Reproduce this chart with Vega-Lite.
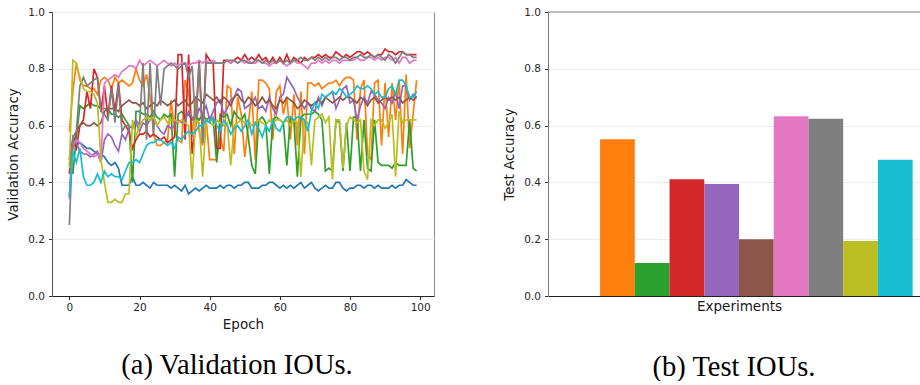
{
"$schema":"https://vega.github.io/schema/vega-lite/v6.json",
"padding":{"left":6,"top":6,"right":0,"bottom":0},
"background":"white",
"spacing":114,
"bounds":"flush",
"config":{
"font":"DejaVu Sans",
"axis":{"labelFont":"DejaVu Sans","labelFontSize":10.5,"labelColor":"#262626","titleFont":"DejaVu Sans","titleFontSize":13.5,"titleFontWeight":"normal","titleColor":"#1a1a1a","tickColor":"#333","tickSize":3.5,"gridColor":"#ebebeb","gridWidth":1},
"title":{"font":"Liberation Serif","fontSize":28.5,"fontWeight":"normal","color":"#000","orient":"bottom","anchor":"middle"}
},
"datasets":{
"test":[{"exp":"E1","acc":0},{"exp":"E2","acc":0.552},{"exp":"E3","acc":0.116},{"exp":"E4","acc":0.411},{"exp":"E5","acc":0.394},{"exp":"E6","acc":0.2},{"exp":"E7","acc":0.633},{"exp":"E8","acc":0.624},{"exp":"E9","acc":0.194},{"exp":"E10","acc":0.48}],
"val":[
{"s":1,"e":0,"v":0.48},{"s":1,"e":1,"v":0.55},{"s":1,"e":2,"v":0.53},{"s":1,"e":3,"v":0.54},{"s":1,"e":4,"v":0.53},{"s":1,"e":5,"v":0.52},{"s":1,"e":6,"v":0.52},{"s":1,"e":7,"v":0.51},{"s":1,"e":8,"v":0.50},{"s":1,"e":9,"v":0.50},
{"s":1,"e":10,"v":0.49},{"s":1,"e":11,"v":0.47},{"s":1,"e":12,"v":0.46},{"s":1,"e":13,"v":0.47},{"s":1,"e":14,"v":0.45},{"s":1,"e":15,"v":0.39},{"s":1,"e":16,"v":0.39},{"s":1,"e":17,"v":0.39},{"s":1,"e":18,"v":0.42},{"s":1,"e":19,"v":0.39},
{"s":1,"e":20,"v":0.39},{"s":1,"e":21,"v":0.40},{"s":1,"e":22,"v":0.39},{"s":1,"e":23,"v":0.38},{"s":1,"e":24,"v":0.40},{"s":1,"e":25,"v":0.39},{"s":1,"e":26,"v":0.39},{"s":1,"e":27,"v":0.39},{"s":1,"e":28,"v":0.39},{"s":1,"e":29,"v":0.38},
{"s":1,"e":30,"v":0.39},{"s":1,"e":31,"v":0.38},{"s":1,"e":32,"v":0.37},{"s":1,"e":33,"v":0.39},{"s":1,"e":34,"v":0.36},{"s":1,"e":35,"v":0.37},{"s":1,"e":36,"v":0.38},{"s":1,"e":37,"v":0.37},{"s":1,"e":38,"v":0.38},{"s":1,"e":39,"v":0.39},
{"s":1,"e":40,"v":0.38},{"s":1,"e":41,"v":0.38},{"s":1,"e":42,"v":0.38},{"s":1,"e":43,"v":0.39},{"s":1,"e":44,"v":0.38},{"s":1,"e":45,"v":0.39},{"s":1,"e":46,"v":0.39},{"s":1,"e":47,"v":0.38},{"s":1,"e":48,"v":0.39},{"s":1,"e":49,"v":0.39},
{"s":1,"e":50,"v":0.40},{"s":1,"e":51,"v":0.40},{"s":1,"e":52,"v":0.38},{"s":1,"e":53,"v":0.38},{"s":1,"e":54,"v":0.38},{"s":1,"e":55,"v":0.39},{"s":1,"e":56,"v":0.39},{"s":1,"e":57,"v":0.40},{"s":1,"e":58,"v":0.40},{"s":1,"e":59,"v":0.39},
{"s":1,"e":60,"v":0.38},{"s":1,"e":61,"v":0.39},{"s":1,"e":62,"v":0.38},{"s":1,"e":63,"v":0.39},{"s":1,"e":64,"v":0.38},{"s":1,"e":65,"v":0.39},{"s":1,"e":66,"v":0.40},{"s":1,"e":67,"v":0.38},{"s":1,"e":68,"v":0.39},{"s":1,"e":69,"v":0.40},
{"s":1,"e":70,"v":0.38},{"s":1,"e":71,"v":0.37},{"s":1,"e":72,"v":0.38},{"s":1,"e":73,"v":0.39},{"s":1,"e":74,"v":0.38},{"s":1,"e":75,"v":0.38},{"s":1,"e":76,"v":0.40},{"s":1,"e":77,"v":0.40},{"s":1,"e":78,"v":0.38},{"s":1,"e":79,"v":0.37},
{"s":1,"e":80,"v":0.38},{"s":1,"e":81,"v":0.38},{"s":1,"e":82,"v":0.39},{"s":1,"e":83,"v":0.39},{"s":1,"e":84,"v":0.38},{"s":1,"e":85,"v":0.39},{"s":1,"e":86,"v":0.39},{"s":1,"e":87,"v":0.38},{"s":1,"e":88,"v":0.39},{"s":1,"e":89,"v":0.38},
{"s":1,"e":90,"v":0.38},{"s":1,"e":91,"v":0.38},{"s":1,"e":92,"v":0.39},{"s":1,"e":93,"v":0.38},{"s":1,"e":94,"v":0.39},{"s":1,"e":95,"v":0.39},{"s":1,"e":96,"v":0.41},{"s":1,"e":97,"v":0.40},{"s":1,"e":98,"v":0.39},{"s":1,"e":99,"v":0.39},
{"s":2,"e":0,"v":0.58},{"s":2,"e":1,"v":0.72},{"s":2,"e":2,"v":0.82},{"s":2,"e":3,"v":0.76},{"s":2,"e":4,"v":0.74},{"s":2,"e":5,"v":0.74},{"s":2,"e":6,"v":0.73},{"s":2,"e":7,"v":0.73},{"s":2,"e":8,"v":0.71},{"s":2,"e":9,"v":0.76},
{"s":2,"e":10,"v":0.77},{"s":2,"e":11,"v":0.76},{"s":2,"e":12,"v":0.73},{"s":2,"e":13,"v":0.77},{"s":2,"e":14,"v":0.75},{"s":2,"e":15,"v":0.76},{"s":2,"e":16,"v":0.75},{"s":2,"e":17,"v":0.74},{"s":2,"e":18,"v":0.75},{"s":2,"e":19,"v":0.80},
{"s":2,"e":20,"v":0.76},{"s":2,"e":21,"v":0.74},{"s":2,"e":22,"v":0.78},{"s":2,"e":23,"v":0.70},{"s":2,"e":24,"v":0.57},{"s":2,"e":25,"v":0.53},{"s":2,"e":26,"v":0.53},{"s":2,"e":27,"v":0.54},{"s":2,"e":28,"v":0.55},{"s":2,"e":29,"v":0.69},
{"s":2,"e":30,"v":0.58},{"s":2,"e":31,"v":0.55},{"s":2,"e":32,"v":0.54},{"s":2,"e":33,"v":0.76},{"s":2,"e":34,"v":0.72},{"s":2,"e":35,"v":0.56},{"s":2,"e":36,"v":0.70},{"s":2,"e":37,"v":0.58},{"s":2,"e":38,"v":0.53},{"s":2,"e":39,"v":0.62},
{"s":2,"e":40,"v":0.48},{"s":2,"e":41,"v":0.48},{"s":2,"e":42,"v":0.48},{"s":2,"e":43,"v":0.56},{"s":2,"e":44,"v":0.51},{"s":2,"e":45,"v":0.74},{"s":2,"e":46,"v":0.73},{"s":2,"e":47,"v":0.50},{"s":2,"e":48,"v":0.70},{"s":2,"e":49,"v":0.64},
{"s":2,"e":50,"v":0.49},{"s":2,"e":51,"v":0.60},{"s":2,"e":52,"v":0.72},{"s":2,"e":53,"v":0.48},{"s":2,"e":54,"v":0.76},{"s":2,"e":55,"v":0.76},{"s":2,"e":56,"v":0.75},{"s":2,"e":57,"v":0.73},{"s":2,"e":58,"v":0.55},{"s":2,"e":59,"v":0.72},
{"s":2,"e":60,"v":0.74},{"s":2,"e":61,"v":0.64},{"s":2,"e":62,"v":0.70},{"s":2,"e":63,"v":0.55},{"s":2,"e":64,"v":0.71},{"s":2,"e":65,"v":0.53},{"s":2,"e":66,"v":0.72},{"s":2,"e":67,"v":0.50},{"s":2,"e":68,"v":0.75},{"s":2,"e":69,"v":0.75},
{"s":2,"e":70,"v":0.74},{"s":2,"e":71,"v":0.75},{"s":2,"e":72,"v":0.73},{"s":2,"e":73,"v":0.74},{"s":2,"e":74,"v":0.75},{"s":2,"e":75,"v":0.75},{"s":2,"e":76,"v":0.76},{"s":2,"e":77,"v":0.74},{"s":2,"e":78,"v":0.76},{"s":2,"e":79,"v":0.77},
{"s":2,"e":80,"v":0.77},{"s":2,"e":81,"v":0.76},{"s":2,"e":82,"v":0.55},{"s":2,"e":83,"v":0.73},{"s":2,"e":84,"v":0.76},{"s":2,"e":85,"v":0.50},{"s":2,"e":86,"v":0.48},{"s":2,"e":87,"v":0.75},{"s":2,"e":88,"v":0.76},{"s":2,"e":89,"v":0.53},
{"s":2,"e":90,"v":0.75},{"s":2,"e":91,"v":0.56},{"s":2,"e":92,"v":0.75},{"s":2,"e":93,"v":0.62},{"s":2,"e":94,"v":0.76},{"s":2,"e":95,"v":0.50},{"s":2,"e":96,"v":0.78},{"s":2,"e":97,"v":0.52},{"s":2,"e":98,"v":0.64},{"s":2,"e":99,"v":0.76},
{"s":3,"e":0,"v":0.49},{"s":3,"e":1,"v":0.43},{"s":3,"e":2,"v":0.56},{"s":3,"e":3,"v":0.67},{"s":3,"e":4,"v":0.66},{"s":3,"e":5,"v":0.67},{"s":3,"e":6,"v":0.68},{"s":3,"e":7,"v":0.67},{"s":3,"e":8,"v":0.67},{"s":3,"e":9,"v":0.66},
{"s":3,"e":10,"v":0.66},{"s":3,"e":11,"v":0.66},{"s":3,"e":12,"v":0.64},{"s":3,"e":13,"v":0.64},{"s":3,"e":14,"v":0.63},{"s":3,"e":15,"v":0.64},{"s":3,"e":16,"v":0.62},{"s":3,"e":17,"v":0.60},{"s":3,"e":18,"v":0.40},{"s":3,"e":19,"v":0.65},
{"s":3,"e":20,"v":0.65},{"s":3,"e":21,"v":0.64},{"s":3,"e":22,"v":0.64},{"s":3,"e":23,"v":0.63},{"s":3,"e":24,"v":0.65},{"s":3,"e":25,"v":0.63},{"s":3,"e":26,"v":0.62},{"s":3,"e":27,"v":0.64},{"s":3,"e":28,"v":0.63},{"s":3,"e":29,"v":0.64},
{"s":3,"e":30,"v":0.42},{"s":3,"e":31,"v":0.64},{"s":3,"e":32,"v":0.65},{"s":3,"e":33,"v":0.63},{"s":3,"e":34,"v":0.64},{"s":3,"e":35,"v":0.62},{"s":3,"e":36,"v":0.63},{"s":3,"e":37,"v":0.62},{"s":3,"e":38,"v":0.64},{"s":3,"e":39,"v":0.62},
{"s":3,"e":40,"v":0.63},{"s":3,"e":41,"v":0.62},{"s":3,"e":42,"v":0.47},{"s":3,"e":43,"v":0.64},{"s":3,"e":44,"v":0.63},{"s":3,"e":45,"v":0.64},{"s":3,"e":46,"v":0.60},{"s":3,"e":47,"v":0.65},{"s":3,"e":48,"v":0.63},{"s":3,"e":49,"v":0.62},
{"s":3,"e":50,"v":0.64},{"s":3,"e":51,"v":0.56},{"s":3,"e":52,"v":0.46},{"s":3,"e":53,"v":0.43},{"s":3,"e":54,"v":0.62},{"s":3,"e":55,"v":0.63},{"s":3,"e":56,"v":0.61},{"s":3,"e":57,"v":0.43},{"s":3,"e":58,"v":0.62},{"s":3,"e":59,"v":0.63},
{"s":3,"e":60,"v":0.62},{"s":3,"e":61,"v":0.61},{"s":3,"e":62,"v":0.46},{"s":3,"e":63,"v":0.63},{"s":3,"e":64,"v":0.62},{"s":3,"e":65,"v":0.42},{"s":3,"e":66,"v":0.63},{"s":3,"e":67,"v":0.64},{"s":3,"e":68,"v":0.64},{"s":3,"e":69,"v":0.64},
{"s":3,"e":70,"v":0.65},{"s":3,"e":71,"v":0.64},{"s":3,"e":72,"v":0.62},{"s":3,"e":73,"v":0.44},{"s":3,"e":74,"v":0.45},{"s":3,"e":75,"v":0.44},{"s":3,"e":76,"v":0.62},{"s":3,"e":77,"v":0.61},{"s":3,"e":78,"v":0.44},{"s":3,"e":79,"v":0.61},
{"s":3,"e":80,"v":0.44},{"s":3,"e":81,"v":0.63},{"s":3,"e":82,"v":0.63},{"s":3,"e":83,"v":0.44},{"s":3,"e":84,"v":0.62},{"s":3,"e":85,"v":0.45},{"s":3,"e":86,"v":0.44},{"s":3,"e":87,"v":0.62},{"s":3,"e":88,"v":0.47},{"s":3,"e":89,"v":0.46},
{"s":3,"e":90,"v":0.46},{"s":3,"e":91,"v":0.46},{"s":3,"e":92,"v":0.45},{"s":3,"e":93,"v":0.47},{"s":3,"e":94,"v":0.46},{"s":3,"e":95,"v":0.46},{"s":3,"e":96,"v":0.46},{"s":3,"e":97,"v":0.62},{"s":3,"e":98,"v":0.45},{"s":3,"e":99,"v":0.44},
{"s":4,"e":0,"v":0.43},{"s":4,"e":1,"v":0.55},{"s":4,"e":2,"v":0.52},{"s":4,"e":3,"v":0.60},{"s":4,"e":4,"v":0.62},{"s":4,"e":5,"v":0.72},{"s":4,"e":6,"v":0.66},{"s":4,"e":7,"v":0.80},{"s":4,"e":8,"v":0.77},{"s":4,"e":9,"v":0.65},
{"s":4,"e":10,"v":0.74},{"s":4,"e":11,"v":0.63},{"s":4,"e":12,"v":0.74},{"s":4,"e":13,"v":0.65},{"s":4,"e":14,"v":0.75},{"s":4,"e":15,"v":0.62},{"s":4,"e":16,"v":0.60},{"s":4,"e":17,"v":0.58},{"s":4,"e":18,"v":0.52},{"s":4,"e":19,"v":0.55},
{"s":4,"e":20,"v":0.57},{"s":4,"e":21,"v":0.57},{"s":4,"e":22,"v":0.58},{"s":4,"e":23,"v":0.56},{"s":4,"e":24,"v":0.57},{"s":4,"e":25,"v":0.56},{"s":4,"e":26,"v":0.55},{"s":4,"e":27,"v":0.56},{"s":4,"e":28,"v":0.54},{"s":4,"e":29,"v":0.55},
{"s":4,"e":30,"v":0.56},{"s":4,"e":31,"v":0.85},{"s":4,"e":32,"v":0.85},{"s":4,"e":33,"v":0.55},{"s":4,"e":34,"v":0.85},{"s":4,"e":35,"v":0.50},{"s":4,"e":36,"v":0.60},{"s":4,"e":37,"v":0.83},{"s":4,"e":38,"v":0.56},{"s":4,"e":39,"v":0.85},
{"s":4,"e":40,"v":0.83},{"s":4,"e":41,"v":0.82},{"s":4,"e":42,"v":0.52},{"s":4,"e":43,"v":0.52},{"s":4,"e":44,"v":0.83},{"s":4,"e":45,"v":0.83},{"s":4,"e":46,"v":0.82},{"s":4,"e":47,"v":0.83},{"s":4,"e":48,"v":0.84},{"s":4,"e":49,"v":0.83},
{"s":4,"e":50,"v":0.85},{"s":4,"e":51,"v":0.83},{"s":4,"e":52,"v":0.84},{"s":4,"e":53,"v":0.83},{"s":4,"e":54,"v":0.85},{"s":4,"e":55,"v":0.83},{"s":4,"e":56,"v":0.84},{"s":4,"e":57,"v":0.82},{"s":4,"e":58,"v":0.84},{"s":4,"e":59,"v":0.82},
{"s":4,"e":60,"v":0.84},{"s":4,"e":61,"v":0.82},{"s":4,"e":62,"v":0.85},{"s":4,"e":63,"v":0.82},{"s":4,"e":64,"v":0.84},{"s":4,"e":65,"v":0.83},{"s":4,"e":66,"v":0.82},{"s":4,"e":67,"v":0.84},{"s":4,"e":68,"v":0.83},{"s":4,"e":69,"v":0.84},
{"s":4,"e":70,"v":0.84},{"s":4,"e":71,"v":0.85},{"s":4,"e":72,"v":0.84},{"s":4,"e":73,"v":0.85},{"s":4,"e":74,"v":0.84},{"s":4,"e":75,"v":0.84},{"s":4,"e":76,"v":0.86},{"s":4,"e":77,"v":0.85},{"s":4,"e":78,"v":0.84},{"s":4,"e":79,"v":0.85},
{"s":4,"e":80,"v":0.84},{"s":4,"e":81,"v":0.85},{"s":4,"e":82,"v":0.86},{"s":4,"e":83,"v":0.86},{"s":4,"e":84,"v":0.85},{"s":4,"e":85,"v":0.86},{"s":4,"e":86,"v":0.85},{"s":4,"e":87,"v":0.84},{"s":4,"e":88,"v":0.85},{"s":4,"e":89,"v":0.85},
{"s":4,"e":90,"v":0.87},{"s":4,"e":91,"v":0.86},{"s":4,"e":92,"v":0.86},{"s":4,"e":93,"v":0.85},{"s":4,"e":94,"v":0.86},{"s":4,"e":95,"v":0.86},{"s":4,"e":96,"v":0.85},{"s":4,"e":97,"v":0.85},{"s":4,"e":98,"v":0.85},{"s":4,"e":99,"v":0.85},
{"s":5,"e":0,"v":0.35},{"s":5,"e":1,"v":0.56},{"s":5,"e":2,"v":0.54},{"s":5,"e":3,"v":0.51},{"s":5,"e":4,"v":0.50},{"s":5,"e":5,"v":0.50},{"s":5,"e":6,"v":0.49},{"s":5,"e":7,"v":0.50},{"s":5,"e":8,"v":0.51},{"s":5,"e":9,"v":0.47},
{"s":5,"e":10,"v":0.55},{"s":5,"e":11,"v":0.57},{"s":5,"e":12,"v":0.56},{"s":5,"e":13,"v":0.53},{"s":5,"e":14,"v":0.51},{"s":5,"e":15,"v":0.57},{"s":5,"e":16,"v":0.55},{"s":5,"e":17,"v":0.59},{"s":5,"e":18,"v":0.60},{"s":5,"e":19,"v":0.61},
{"s":5,"e":20,"v":0.58},{"s":5,"e":21,"v":0.61},{"s":5,"e":22,"v":0.60},{"s":5,"e":23,"v":0.62},{"s":5,"e":24,"v":0.63},{"s":5,"e":25,"v":0.60},{"s":5,"e":26,"v":0.58},{"s":5,"e":27,"v":0.57},{"s":5,"e":28,"v":0.60},{"s":5,"e":29,"v":0.59},
{"s":5,"e":30,"v":0.60},{"s":5,"e":31,"v":0.62},{"s":5,"e":32,"v":0.61},{"s":5,"e":33,"v":0.62},{"s":5,"e":34,"v":0.65},{"s":5,"e":35,"v":0.63},{"s":5,"e":36,"v":0.62},{"s":5,"e":37,"v":0.66},{"s":5,"e":38,"v":0.64},{"s":5,"e":39,"v":0.67},
{"s":5,"e":40,"v":0.62},{"s":5,"e":41,"v":0.65},{"s":5,"e":42,"v":0.68},{"s":5,"e":43,"v":0.69},{"s":5,"e":44,"v":0.64},{"s":5,"e":45,"v":0.66},{"s":5,"e":46,"v":0.69},{"s":5,"e":47,"v":0.70},{"s":5,"e":48,"v":0.73},{"s":5,"e":49,"v":0.72},
{"s":5,"e":50,"v":0.66},{"s":5,"e":51,"v":0.67},{"s":5,"e":52,"v":0.68},{"s":5,"e":53,"v":0.70},{"s":5,"e":54,"v":0.66},{"s":5,"e":55,"v":0.67},{"s":5,"e":56,"v":0.65},{"s":5,"e":57,"v":0.70},{"s":5,"e":58,"v":0.66},{"s":5,"e":59,"v":0.64},
{"s":5,"e":60,"v":0.70},{"s":5,"e":61,"v":0.71},{"s":5,"e":62,"v":0.77},{"s":5,"e":63,"v":0.75},{"s":5,"e":64,"v":0.73},{"s":5,"e":65,"v":0.70},{"s":5,"e":66,"v":0.68},{"s":5,"e":67,"v":0.66},{"s":5,"e":68,"v":0.68},{"s":5,"e":69,"v":0.66},
{"s":5,"e":70,"v":0.65},{"s":5,"e":71,"v":0.70},{"s":5,"e":72,"v":0.67},{"s":5,"e":73,"v":0.70},{"s":5,"e":74,"v":0.71},{"s":5,"e":75,"v":0.72},{"s":5,"e":76,"v":0.66},{"s":5,"e":77,"v":0.69},{"s":5,"e":78,"v":0.73},{"s":5,"e":79,"v":0.74},
{"s":5,"e":80,"v":0.68},{"s":5,"e":81,"v":0.69},{"s":5,"e":82,"v":0.62},{"s":5,"e":83,"v":0.67},{"s":5,"e":84,"v":0.70},{"s":5,"e":85,"v":0.68},{"s":5,"e":86,"v":0.72},{"s":5,"e":87,"v":0.71},{"s":5,"e":88,"v":0.69},{"s":5,"e":89,"v":0.68},
{"s":5,"e":90,"v":0.66},{"s":5,"e":91,"v":0.70},{"s":5,"e":92,"v":0.68},{"s":5,"e":93,"v":0.72},{"s":5,"e":94,"v":0.66},{"s":5,"e":95,"v":0.74},{"s":5,"e":96,"v":0.74},{"s":5,"e":97,"v":0.69},{"s":5,"e":98,"v":0.71},{"s":5,"e":99,"v":0.70},
{"s":6,"e":0,"v":0.46},{"s":6,"e":1,"v":0.52},{"s":6,"e":2,"v":0.58},{"s":6,"e":3,"v":0.60},{"s":6,"e":4,"v":0.61},{"s":6,"e":5,"v":0.60},{"s":6,"e":6,"v":0.60},{"s":6,"e":7,"v":0.61},{"s":6,"e":8,"v":0.60},{"s":6,"e":9,"v":0.61},
{"s":6,"e":10,"v":0.65},{"s":6,"e":11,"v":0.66},{"s":6,"e":12,"v":0.66},{"s":6,"e":13,"v":0.66},{"s":6,"e":14,"v":0.65},{"s":6,"e":15,"v":0.67},{"s":6,"e":16,"v":0.68},{"s":6,"e":17,"v":0.69},{"s":6,"e":18,"v":0.68},{"s":6,"e":19,"v":0.68},
{"s":6,"e":20,"v":0.67},{"s":6,"e":21,"v":0.68},{"s":6,"e":22,"v":0.66},{"s":6,"e":23,"v":0.67},{"s":6,"e":24,"v":0.68},{"s":6,"e":25,"v":0.67},{"s":6,"e":26,"v":0.69},{"s":6,"e":27,"v":0.68},{"s":6,"e":28,"v":0.67},{"s":6,"e":29,"v":0.68},
{"s":6,"e":30,"v":0.69},{"s":6,"e":31,"v":0.67},{"s":6,"e":32,"v":0.68},{"s":6,"e":33,"v":0.69},{"s":6,"e":34,"v":0.67},{"s":6,"e":35,"v":0.68},{"s":6,"e":36,"v":0.70},{"s":6,"e":37,"v":0.69},{"s":6,"e":38,"v":0.68},{"s":6,"e":39,"v":0.71},
{"s":6,"e":40,"v":0.70},{"s":6,"e":41,"v":0.69},{"s":6,"e":42,"v":0.70},{"s":6,"e":43,"v":0.68},{"s":6,"e":44,"v":0.70},{"s":6,"e":45,"v":0.69},{"s":6,"e":46,"v":0.67},{"s":6,"e":47,"v":0.70},{"s":6,"e":48,"v":0.71},{"s":6,"e":49,"v":0.69},
{"s":6,"e":50,"v":0.68},{"s":6,"e":51,"v":0.70},{"s":6,"e":52,"v":0.69},{"s":6,"e":53,"v":0.67},{"s":6,"e":54,"v":0.68},{"s":6,"e":55,"v":0.70},{"s":6,"e":56,"v":0.68},{"s":6,"e":57,"v":0.69},{"s":6,"e":58,"v":0.67},{"s":6,"e":59,"v":0.66},
{"s":6,"e":60,"v":0.69},{"s":6,"e":61,"v":0.68},{"s":6,"e":62,"v":0.70},{"s":6,"e":63,"v":0.69},{"s":6,"e":64,"v":0.68},{"s":6,"e":65,"v":0.66},{"s":6,"e":66,"v":0.67},{"s":6,"e":67,"v":0.69},{"s":6,"e":68,"v":0.68},{"s":6,"e":69,"v":0.67},
{"s":6,"e":70,"v":0.68},{"s":6,"e":71,"v":0.69},{"s":6,"e":72,"v":0.68},{"s":6,"e":73,"v":0.70},{"s":6,"e":74,"v":0.69},{"s":6,"e":75,"v":0.68},{"s":6,"e":76,"v":0.69},{"s":6,"e":77,"v":0.70},{"s":6,"e":78,"v":0.69},{"s":6,"e":79,"v":0.70},
{"s":6,"e":80,"v":0.70},{"s":6,"e":81,"v":0.69},{"s":6,"e":82,"v":0.68},{"s":6,"e":83,"v":0.70},{"s":6,"e":84,"v":0.69},{"s":6,"e":85,"v":0.67},{"s":6,"e":86,"v":0.69},{"s":6,"e":87,"v":0.70},{"s":6,"e":88,"v":0.68},{"s":6,"e":89,"v":0.69},
{"s":6,"e":90,"v":0.70},{"s":6,"e":91,"v":0.69},{"s":6,"e":92,"v":0.70},{"s":6,"e":93,"v":0.69},{"s":6,"e":94,"v":0.70},{"s":6,"e":95,"v":0.68},{"s":6,"e":96,"v":0.69},{"s":6,"e":97,"v":0.70},{"s":6,"e":98,"v":0.69},{"s":6,"e":99,"v":0.70},
{"s":7,"e":0,"v":0.34},{"s":7,"e":1,"v":0.53},{"s":7,"e":2,"v":0.55},{"s":7,"e":3,"v":0.54},{"s":7,"e":4,"v":0.52},{"s":7,"e":5,"v":0.51},{"s":7,"e":6,"v":0.50},{"s":7,"e":7,"v":0.49},{"s":7,"e":8,"v":0.50},{"s":7,"e":9,"v":0.47},
{"s":7,"e":10,"v":0.75},{"s":7,"e":11,"v":0.76},{"s":7,"e":12,"v":0.77},{"s":7,"e":13,"v":0.78},{"s":7,"e":14,"v":0.77},{"s":7,"e":15,"v":0.79},{"s":7,"e":16,"v":0.80},{"s":7,"e":17,"v":0.81},{"s":7,"e":18,"v":0.81},{"s":7,"e":19,"v":0.80},
{"s":7,"e":20,"v":0.83},{"s":7,"e":21,"v":0.81},{"s":7,"e":22,"v":0.82},{"s":7,"e":23,"v":0.83},{"s":7,"e":24,"v":0.82},{"s":7,"e":25,"v":0.81},{"s":7,"e":26,"v":0.82},{"s":7,"e":27,"v":0.83},{"s":7,"e":28,"v":0.82},{"s":7,"e":29,"v":0.81},
{"s":7,"e":30,"v":0.82},{"s":7,"e":31,"v":0.81},{"s":7,"e":32,"v":0.82},{"s":7,"e":33,"v":0.82},{"s":7,"e":34,"v":0.81},{"s":7,"e":35,"v":0.82},{"s":7,"e":36,"v":0.82},{"s":7,"e":37,"v":0.83},{"s":7,"e":38,"v":0.82},{"s":7,"e":39,"v":0.83},
{"s":7,"e":40,"v":0.82},{"s":7,"e":41,"v":0.83},{"s":7,"e":42,"v":0.82},{"s":7,"e":43,"v":0.82},{"s":7,"e":44,"v":0.82},{"s":7,"e":45,"v":0.83},{"s":7,"e":46,"v":0.82},{"s":7,"e":47,"v":0.83},{"s":7,"e":48,"v":0.82},{"s":7,"e":49,"v":0.83},
{"s":7,"e":50,"v":0.82},{"s":7,"e":51,"v":0.83},{"s":7,"e":52,"v":0.82},{"s":7,"e":53,"v":0.82},{"s":7,"e":54,"v":0.83},{"s":7,"e":55,"v":0.82},{"s":7,"e":56,"v":0.82},{"s":7,"e":57,"v":0.81},{"s":7,"e":58,"v":0.82},{"s":7,"e":59,"v":0.82},
{"s":7,"e":60,"v":0.83},{"s":7,"e":61,"v":0.82},{"s":7,"e":62,"v":0.81},{"s":7,"e":63,"v":0.82},{"s":7,"e":64,"v":0.83},{"s":7,"e":65,"v":0.82},{"s":7,"e":66,"v":0.82},{"s":7,"e":67,"v":0.81},{"s":7,"e":68,"v":0.80},{"s":7,"e":69,"v":0.82},
{"s":7,"e":70,"v":0.82},{"s":7,"e":71,"v":0.83},{"s":7,"e":72,"v":0.82},{"s":7,"e":73,"v":0.83},{"s":7,"e":74,"v":0.82},{"s":7,"e":75,"v":0.83},{"s":7,"e":76,"v":0.83},{"s":7,"e":77,"v":0.82},{"s":7,"e":78,"v":0.83},{"s":7,"e":79,"v":0.83},
{"s":7,"e":80,"v":0.83},{"s":7,"e":81,"v":0.83},{"s":7,"e":82,"v":0.84},{"s":7,"e":83,"v":0.83},{"s":7,"e":84,"v":0.83},{"s":7,"e":85,"v":0.84},{"s":7,"e":86,"v":0.84},{"s":7,"e":87,"v":0.83},{"s":7,"e":88,"v":0.84},{"s":7,"e":89,"v":0.83},
{"s":7,"e":90,"v":0.84},{"s":7,"e":91,"v":0.84},{"s":7,"e":92,"v":0.83},{"s":7,"e":93,"v":0.84},{"s":7,"e":94,"v":0.82},{"s":7,"e":95,"v":0.84},{"s":7,"e":96,"v":0.84},{"s":7,"e":97,"v":0.82},{"s":7,"e":98,"v":0.83},{"s":7,"e":99,"v":0.83},
{"s":8,"e":0,"v":0.25},{"s":8,"e":1,"v":0.56},{"s":8,"e":2,"v":0.58},{"s":8,"e":3,"v":0.74},{"s":8,"e":4,"v":0.77},{"s":8,"e":5,"v":0.74},{"s":8,"e":6,"v":0.75},{"s":8,"e":7,"v":0.76},{"s":8,"e":8,"v":0.77},{"s":8,"e":9,"v":0.65},
{"s":8,"e":10,"v":0.64},{"s":8,"e":11,"v":0.62},{"s":8,"e":12,"v":0.73},{"s":8,"e":13,"v":0.61},{"s":8,"e":14,"v":0.74},{"s":8,"e":15,"v":0.58},{"s":8,"e":16,"v":0.60},{"s":8,"e":17,"v":0.60},{"s":8,"e":18,"v":0.59},{"s":8,"e":19,"v":0.62},
{"s":8,"e":20,"v":0.60},{"s":8,"e":21,"v":0.82},{"s":8,"e":22,"v":0.55},{"s":8,"e":23,"v":0.82},{"s":8,"e":24,"v":0.57},{"s":8,"e":25,"v":0.81},{"s":8,"e":26,"v":0.67},{"s":8,"e":27,"v":0.80},{"s":8,"e":28,"v":0.81},{"s":8,"e":29,"v":0.82},
{"s":8,"e":30,"v":0.81},{"s":8,"e":31,"v":0.80},{"s":8,"e":32,"v":0.81},{"s":8,"e":33,"v":0.82},{"s":8,"e":34,"v":0.77},{"s":8,"e":35,"v":0.81},{"s":8,"e":36,"v":0.60},{"s":8,"e":37,"v":0.82},{"s":8,"e":38,"v":0.54},{"s":8,"e":39,"v":0.82},
{"s":8,"e":40,"v":0.82},{"s":8,"e":41,"v":0.82},{"s":8,"e":42,"v":0.82},{"s":8,"e":43,"v":0.82},{"s":8,"e":44,"v":0.82},{"s":8,"e":45,"v":0.83},{"s":8,"e":46,"v":0.83},{"s":8,"e":47,"v":0.83},{"s":8,"e":48,"v":0.82},{"s":8,"e":49,"v":0.83},
{"s":8,"e":50,"v":0.83},{"s":8,"e":51,"v":0.82},{"s":8,"e":52,"v":0.82},{"s":8,"e":53,"v":0.83},{"s":8,"e":54,"v":0.83},{"s":8,"e":55,"v":0.82},{"s":8,"e":56,"v":0.83},{"s":8,"e":57,"v":0.82},{"s":8,"e":58,"v":0.83},{"s":8,"e":59,"v":0.82},
{"s":8,"e":60,"v":0.83},{"s":8,"e":61,"v":0.82},{"s":8,"e":62,"v":0.83},{"s":8,"e":63,"v":0.82},{"s":8,"e":64,"v":0.83},{"s":8,"e":65,"v":0.83},{"s":8,"e":66,"v":0.84},{"s":8,"e":67,"v":0.83},{"s":8,"e":68,"v":0.83},{"s":8,"e":69,"v":0.84},
{"s":8,"e":70,"v":0.83},{"s":8,"e":71,"v":0.84},{"s":8,"e":72,"v":0.83},{"s":8,"e":73,"v":0.84},{"s":8,"e":74,"v":0.83},{"s":8,"e":75,"v":0.84},{"s":8,"e":76,"v":0.84},{"s":8,"e":77,"v":0.83},{"s":8,"e":78,"v":0.84},{"s":8,"e":79,"v":0.84},
{"s":8,"e":80,"v":0.83},{"s":8,"e":81,"v":0.84},{"s":8,"e":82,"v":0.84},{"s":8,"e":83,"v":0.85},{"s":8,"e":84,"v":0.84},{"s":8,"e":85,"v":0.84},{"s":8,"e":86,"v":0.85},{"s":8,"e":87,"v":0.84},{"s":8,"e":88,"v":0.85},{"s":8,"e":89,"v":0.84},
{"s":8,"e":90,"v":0.83},{"s":8,"e":91,"v":0.85},{"s":8,"e":92,"v":0.84},{"s":8,"e":93,"v":0.82},{"s":8,"e":94,"v":0.84},{"s":8,"e":95,"v":0.86},{"s":8,"e":96,"v":0.85},{"s":8,"e":97,"v":0.85},{"s":8,"e":98,"v":0.84},{"s":8,"e":99,"v":0.84},
{"s":9,"e":0,"v":0.45},{"s":9,"e":1,"v":0.83},{"s":9,"e":2,"v":0.82},{"s":9,"e":3,"v":0.77},{"s":9,"e":4,"v":0.73},{"s":9,"e":5,"v":0.72},{"s":9,"e":6,"v":0.72},{"s":9,"e":7,"v":0.71},{"s":9,"e":8,"v":0.68},{"s":9,"e":9,"v":0.48},
{"s":9,"e":10,"v":0.40},{"s":9,"e":11,"v":0.33},{"s":9,"e":12,"v":0.33},{"s":9,"e":13,"v":0.34},{"s":9,"e":14,"v":0.33},{"s":9,"e":15,"v":0.33},{"s":9,"e":16,"v":0.36},{"s":9,"e":17,"v":0.36},{"s":9,"e":18,"v":0.62},{"s":9,"e":19,"v":0.56},
{"s":9,"e":20,"v":0.60},{"s":9,"e":21,"v":0.62},{"s":9,"e":22,"v":0.63},{"s":9,"e":23,"v":0.62},{"s":9,"e":24,"v":0.63},{"s":9,"e":25,"v":0.60},{"s":9,"e":26,"v":0.62},{"s":9,"e":27,"v":0.63},{"s":9,"e":28,"v":0.61},{"s":9,"e":29,"v":0.62},
{"s":9,"e":30,"v":0.62},{"s":9,"e":31,"v":0.61},{"s":9,"e":32,"v":0.62},{"s":9,"e":33,"v":0.61},{"s":9,"e":34,"v":0.60},{"s":9,"e":35,"v":0.41},{"s":9,"e":36,"v":0.62},{"s":9,"e":37,"v":0.61},{"s":9,"e":38,"v":0.42},{"s":9,"e":39,"v":0.62},
{"s":9,"e":40,"v":0.61},{"s":9,"e":41,"v":0.60},{"s":9,"e":42,"v":0.62},{"s":9,"e":43,"v":0.61},{"s":9,"e":44,"v":0.60},{"s":9,"e":45,"v":0.61},{"s":9,"e":46,"v":0.46},{"s":9,"e":47,"v":0.60},{"s":9,"e":48,"v":0.61},{"s":9,"e":49,"v":0.62},
{"s":9,"e":50,"v":0.61},{"s":9,"e":51,"v":0.62},{"s":9,"e":52,"v":0.60},{"s":9,"e":53,"v":0.61},{"s":9,"e":54,"v":0.62},{"s":9,"e":55,"v":0.61},{"s":9,"e":56,"v":0.60},{"s":9,"e":57,"v":0.62},{"s":9,"e":58,"v":0.61},{"s":9,"e":59,"v":0.62},
{"s":9,"e":60,"v":0.62},{"s":9,"e":61,"v":0.61},{"s":9,"e":62,"v":0.62},{"s":9,"e":63,"v":0.60},{"s":9,"e":64,"v":0.62},{"s":9,"e":65,"v":0.61},{"s":9,"e":66,"v":0.42},{"s":9,"e":67,"v":0.62},{"s":9,"e":68,"v":0.61},{"s":9,"e":69,"v":0.46},
{"s":9,"e":70,"v":0.62},{"s":9,"e":71,"v":0.63},{"s":9,"e":72,"v":0.64},{"s":9,"e":73,"v":0.61},{"s":9,"e":74,"v":0.63},{"s":9,"e":75,"v":0.41},{"s":9,"e":76,"v":0.62},{"s":9,"e":77,"v":0.62},{"s":9,"e":78,"v":0.45},{"s":9,"e":79,"v":0.60},
{"s":9,"e":80,"v":0.63},{"s":9,"e":81,"v":0.62},{"s":9,"e":82,"v":0.61},{"s":9,"e":83,"v":0.62},{"s":9,"e":84,"v":0.44},{"s":9,"e":85,"v":0.41},{"s":9,"e":86,"v":0.62},{"s":9,"e":87,"v":0.60},{"s":9,"e":88,"v":0.62},{"s":9,"e":89,"v":0.62},
{"s":9,"e":90,"v":0.59},{"s":9,"e":91,"v":0.61},{"s":9,"e":92,"v":0.64},{"s":9,"e":93,"v":0.42},{"s":9,"e":94,"v":0.65},{"s":9,"e":95,"v":0.61},{"s":9,"e":96,"v":0.62},{"s":9,"e":97,"v":0.62},{"s":9,"e":98,"v":0.62},{"s":9,"e":99,"v":0.62},
{"s":10,"e":0,"v":0.35},{"s":10,"e":1,"v":0.51},{"s":10,"e":2,"v":0.47},{"s":10,"e":3,"v":0.52},{"s":10,"e":4,"v":0.42},{"s":10,"e":5,"v":0.39},{"s":10,"e":6,"v":0.39},{"s":10,"e":7,"v":0.40},{"s":10,"e":8,"v":0.43},{"s":10,"e":9,"v":0.40},
{"s":10,"e":10,"v":0.44},{"s":10,"e":11,"v":0.42},{"s":10,"e":12,"v":0.43},{"s":10,"e":13,"v":0.42},{"s":10,"e":14,"v":0.42},{"s":10,"e":15,"v":0.41},{"s":10,"e":16,"v":0.44},{"s":10,"e":17,"v":0.47},{"s":10,"e":18,"v":0.47},{"s":10,"e":19,"v":0.48},
{"s":10,"e":20,"v":0.47},{"s":10,"e":21,"v":0.50},{"s":10,"e":22,"v":0.53},{"s":10,"e":23,"v":0.54},{"s":10,"e":24,"v":0.54},{"s":10,"e":25,"v":0.55},{"s":10,"e":26,"v":0.55},{"s":10,"e":27,"v":0.54},{"s":10,"e":28,"v":0.53},{"s":10,"e":29,"v":0.54},
{"s":10,"e":30,"v":0.52},{"s":10,"e":31,"v":0.56},{"s":10,"e":32,"v":0.55},{"s":10,"e":33,"v":0.57},{"s":10,"e":34,"v":0.58},{"s":10,"e":35,"v":0.57},{"s":10,"e":36,"v":0.58},{"s":10,"e":37,"v":0.60},{"s":10,"e":38,"v":0.60},{"s":10,"e":39,"v":0.62},
{"s":10,"e":40,"v":0.61},{"s":10,"e":41,"v":0.63},{"s":10,"e":42,"v":0.60},{"s":10,"e":43,"v":0.58},{"s":10,"e":44,"v":0.62},{"s":10,"e":45,"v":0.60},{"s":10,"e":46,"v":0.57},{"s":10,"e":47,"v":0.59},{"s":10,"e":48,"v":0.60},{"s":10,"e":49,"v":0.58},
{"s":10,"e":50,"v":0.60},{"s":10,"e":51,"v":0.62},{"s":10,"e":52,"v":0.57},{"s":10,"e":53,"v":0.61},{"s":10,"e":54,"v":0.59},{"s":10,"e":55,"v":0.56},{"s":10,"e":56,"v":0.60},{"s":10,"e":57,"v":0.58},{"s":10,"e":58,"v":0.62},{"s":10,"e":59,"v":0.59},
{"s":10,"e":60,"v":0.58},{"s":10,"e":61,"v":0.61},{"s":10,"e":62,"v":0.63},{"s":10,"e":63,"v":0.63},{"s":10,"e":64,"v":0.62},{"s":10,"e":65,"v":0.63},{"s":10,"e":66,"v":0.63},{"s":10,"e":67,"v":0.62},{"s":10,"e":68,"v":0.58},{"s":10,"e":69,"v":0.65},
{"s":10,"e":70,"v":0.68},{"s":10,"e":71,"v":0.66},{"s":10,"e":72,"v":0.71},{"s":10,"e":73,"v":0.70},{"s":10,"e":74,"v":0.71},{"s":10,"e":75,"v":0.72},{"s":10,"e":76,"v":0.71},{"s":10,"e":77,"v":0.73},{"s":10,"e":78,"v":0.72},{"s":10,"e":79,"v":0.70},
{"s":10,"e":80,"v":0.71},{"s":10,"e":81,"v":0.72},{"s":10,"e":82,"v":0.74},{"s":10,"e":83,"v":0.73},{"s":10,"e":84,"v":0.73},{"s":10,"e":85,"v":0.74},{"s":10,"e":86,"v":0.73},{"s":10,"e":87,"v":0.71},{"s":10,"e":88,"v":0.72},{"s":10,"e":89,"v":0.70},
{"s":10,"e":90,"v":0.70},{"s":10,"e":91,"v":0.73},{"s":10,"e":92,"v":0.74},{"s":10,"e":93,"v":0.71},{"s":10,"e":94,"v":0.76},{"s":10,"e":95,"v":0.76},{"s":10,"e":96,"v":0.74},{"s":10,"e":97,"v":0.70},{"s":10,"e":98,"v":0.70},{"s":10,"e":99,"v":0.72}
]},
"hconcat":[
{
"width":382,"height":284,
"title":{"text":"(a) Validation IOUs.","offset":20,"dx":-6},
"view":{"stroke":"#8a8a8a"},
"data":{"name":"val"},
"mark":{"type":"line","strokeWidth":1.7,"clip":true},
"encoding":{
"x":{"field":"e","type":"quantitative","scale":{"domain":[-4.95,103.95],"nice":false,"zero":false},"axis":{"values":[0,20,40,60,80,100],"format":"d","title":"Epoch","grid":false,"domainColor":"#222","labelPadding":3,"titlePadding":4}},
"y":{"field":"v","type":"quantitative","scale":{"domain":[0,1],"nice":false},"axis":{"values":[0,0.2,0.4,0.6,0.8,1],"format":".1f","title":"Validation Accuracy","grid":true,"domainColor":"#555","labelPadding":4,"titlePadding":7}},
"color":{"field":"s","type":"nominal","scale":{"domain":[1,2,3,4,5,6,7,8,9,10],"range":["#1f77b4","#ff7f0e","#2ca02c","#d62728","#9467bd","#8c564b","#e377c2","#7f7f7f","#bcbd22","#17becf"]},"legend":null}
}
},
{
"width":372,"height":284,
"title":{"text":"(b) Test IOUs.","offset":40},
"view":{"stroke":null},
"layer":[
{
"data":{"name":"test"},
"mark":{"type":"bar"},
"encoding":{
"x":{"field":"exp","type":"nominal","sort":null,"scale":{"domain":["E1","E2","E3","E4","E5","E6","E7","E8","E9","E10"],"paddingInner":0,"paddingOuter":0.5,"range":[0,382]},"axis":{"title":"Experiments","labels":false,"ticks":false,"domainColor":"#222","titlePadding":3,"titleX":191}},
"y":{"field":"acc","type":"quantitative","scale":{"domain":[0,1],"nice":false},"axis":{"values":[0,0.2,0.4,0.6,0.8,1],"format":".1f","title":"Test Accuracy","grid":true,"domainColor":"#777","labelPadding":4,"titlePadding":7}},
"color":{"field":"exp","type":"nominal","scale":{"domain":["E1","E2","E3","E4","E5","E6","E7","E8","E9","E10"],"range":["#1f77b4","#ff7f0e","#2ca02c","#d62728","#9467bd","#8c564b","#e377c2","#7f7f7f","#bcbd22","#17becf"]},"legend":null}
}
},
{
"data":{"values":[{}]},
"mark":{"type":"rule","color":"#8a8a8a","strokeWidth":1},
"encoding":{"y":{"datum":1}}
}
]
}
]
}
